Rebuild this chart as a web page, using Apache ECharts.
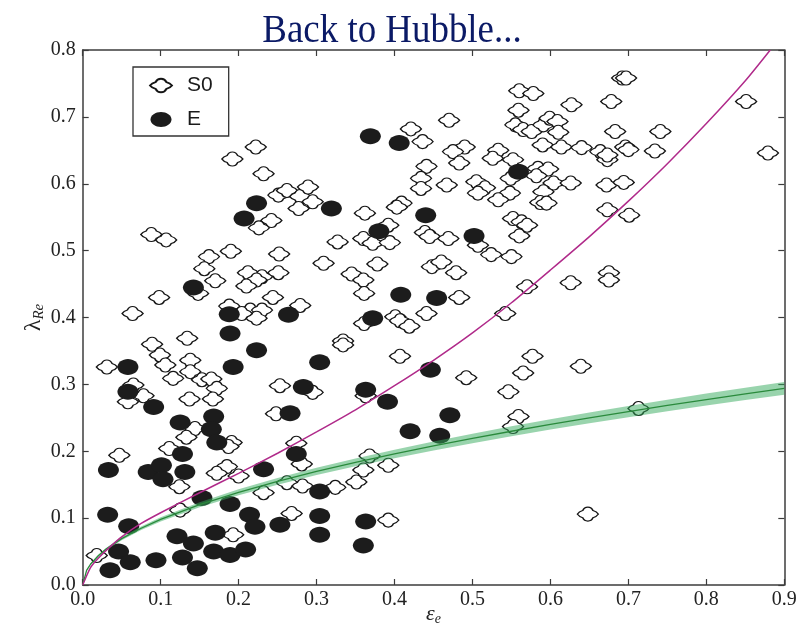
<!DOCTYPE html>
<html>
<head>
<meta charset="utf-8">
<script src="https://cdn.jsdelivr.net/npm/echarts@6/dist/echarts.min.js"></script>
<style>
  html, body { margin: 0; padding: 0; background: #ffffff; }
  #chart { width: 801px; height: 628px; }
</style>
</head>
<body>
<div id="chart"></div>
<script>
// Axis ranges and tick spacing
const xRange = [0, 0.9];
const yRange = [0, 0.8];
const tickStep = 0.1;

// S0 galaxies: ellipticity and lambda_Re
const s0Eps = [0.222,0.192,0.232,0.251,0.262,0.279,0.289,0.295,0.277,0.242,0.226,0.088,0.107,0.162,0.190,0.252,0.309,0.327,0.156,0.170,0.212,0.230,0.223,0.251,0.210,0.148,0.098,0.244,0.064,0.188,0.215,0.230,0.223,0.204,0.279,0.134,0.089,0.334,0.334,
  0.560,0.578,0.627,0.559,0.470,0.421,0.436,0.555,0.565,0.576,0.591,0.599,0.609,0.610,0.590,0.614,0.640,0.490,0.475,0.483,0.533,0.526,0.552,0.441,0.584,0.597,0.582,0.549,0.434,0.434,0.467,0.505,0.516,0.507,0.548,0.533,0.604,0.626,0.591,0.587,0.595,0.409,0.403,0.362,0.392,0.552,0.563,0.570,0.560,0.360,0.372,0.394,0.439,0.445,0.469,0.507,0.524,0.550,0.378,0.448,0.460,0.479,0.345,0.360,0.361,0.483,0.441,0.401,0.407,0.361,0.419,0.570,0.626,0.542,
  0.692,0.697,0.678,0.851,0.683,0.741,0.664,0.696,0.700,0.673,0.673,0.734,0.879,0.672,0.694,0.673,0.701,0.675,0.675,
  0.639,0.713,0.648,
  0.407,0.577,0.565,0.492,0.546,0.363,0.559,0.552,0.368,0.392,0.360,0.351,0.324,0.392,
  0.031,0.099,0.106,0.138,0.138,0.116,0.153,0.165,0.172,0.065,0.078,0.058,0.137,0.167,0.253,0.295,0.248,0.144,0.133,0.111,0.191,0.187,0.047,0.185,0.172,0.200,0.124,0.274,0.281,0.262,0.282,0.232,0.268,0.193,0.018,0.125];
const s0Lam = [0.655,0.637,0.615,0.583,0.590,0.581,0.595,0.573,0.563,0.545,0.534,0.524,0.516,0.491,0.499,0.495,0.481,0.513,0.473,0.455,0.467,0.461,0.456,0.467,0.447,0.436,0.430,0.430,0.406,0.417,0.411,0.411,0.399,0.406,0.418,0.369,0.360,0.365,0.359,
  0.739,0.735,0.718,0.710,0.695,0.682,0.663,0.688,0.681,0.678,0.688,0.698,0.693,0.677,0.658,0.655,0.654,0.655,0.648,0.631,0.650,0.638,0.636,0.626,0.623,0.622,0.612,0.608,0.608,0.593,0.598,0.603,0.594,0.586,0.586,0.576,0.601,0.601,0.588,0.572,0.571,0.571,0.565,0.556,0.538,0.548,0.543,0.538,0.522,0.518,0.511,0.512,0.527,0.521,0.518,0.508,0.494,0.491,0.480,0.476,0.483,0.467,0.465,0.456,0.436,0.430,0.406,0.401,0.395,0.391,0.387,0.446,0.452,0.406,
  0.758,0.758,0.723,0.723,0.678,0.678,0.648,0.655,0.651,0.636,0.643,0.649,0.646,0.598,0.602,0.561,0.553,0.467,0.456,
  0.327,0.264,0.106,
  0.342,0.342,0.317,0.310,0.289,0.283,0.252,0.237,0.193,0.179,0.172,0.154,0.146,0.097,
  0.326,0.344,0.329,0.336,0.319,0.309,0.307,0.308,0.294,0.299,0.283,0.274,0.278,0.278,0.298,0.288,0.256,0.234,0.221,0.204,0.213,0.207,0.194,0.177,0.167,0.163,0.147,0.212,0.181,0.153,0.148,0.138,0.107,0.075,0.044,0.112];

// E galaxies: ellipticity and lambda_Re
const eEps = [0.369,0.406,0.223,0.207,0.319,0.440,0.502,0.380,0.559,0.142,0.188,0.264,0.189,0.223,0.408,0.454,0.372,
  0.058,0.193,0.304,0.058,0.283,0.091,0.125,0.168,0.165,0.266,0.172,0.128,0.033,0.084,0.101,0.103,0.131,0.232,0.274,0.304,0.153,0.189,0.214,0.221,0.253,0.304,0.304,0.032,0.059,0.121,0.142,0.170,0.168,0.189,0.209,0.046,0.061,0.035,0.094,0.128,0.147,
  0.446,0.363,0.391,0.471,0.420,0.458,0.363,0.360];
const eLam = [0.671,0.661,0.571,0.548,0.563,0.553,0.522,0.529,0.618,0.445,0.405,0.404,0.376,0.351,0.434,0.429,0.399,
  0.326,0.326,0.333,0.289,0.296,0.266,0.243,0.252,0.233,0.257,0.213,0.196,0.172,0.169,0.179,0.158,0.169,0.173,0.196,0.140,0.130,0.121,0.105,0.087,0.090,0.103,0.075,0.105,0.088,0.073,0.062,0.078,0.050,0.045,0.053,0.050,0.034,0.022,0.037,0.041,0.025,
  0.322,0.292,0.274,0.254,0.230,0.223,0.095,0.059];

// Magenta model curve
const magEps = [0, 0.01, 0.02, 0.035, 0.05, 0.075, 0.1, 0.15, 0.2, 0.25, 0.3, 0.35, 0.4, 0.45, 0.5, 0.55, 0.6, 0.65, 0.7, 0.75, 0.8, 0.85, 0.882];
const magLam = [0, 0.026, 0.040, 0.057, 0.072, 0.092, 0.108, 0.138, 0.167, 0.197, 0.229, 0.262, 0.298, 0.336, 0.377, 0.422, 0.471, 0.521, 0.574, 0.630, 0.690, 0.754, 0.800];

// Green relation with its shaded band
const fitEps = [0, 0.005, 0.01, 0.02, 0.03, 0.05, 0.075, 0.1, 0.15, 0.2, 0.25, 0.3, 0.35, 0.4, 0.45, 0.5, 0.55, 0.6, 0.65, 0.7, 0.75, 0.8, 0.85, 0.9];
const fitLam = [0, 0.0219, 0.0310, 0.0438, 0.0537, 0.0693, 0.0849, 0.0980, 0.1201, 0.1386, 0.1550, 0.1698, 0.1834, 0.1961, 0.2080, 0.2192, 0.2299, 0.2401, 0.2499, 0.2594, 0.2685, 0.2773, 0.2858, 0.2941];
const fitLo  = [0, 0.0212, 0.0300, 0.0424, 0.0520, 0.0671, 0.0822, 0.0949, 0.1162, 0.1342, 0.1500, 0.1643, 0.1775, 0.1897, 0.2012, 0.2121, 0.2225, 0.2324, 0.2419, 0.2510, 0.2598, 0.2683, 0.2766, 0.2846];
const fitHi  = [0, 0.0226, 0.0320, 0.0453, 0.0554, 0.0716, 0.0876, 0.1012, 0.1239, 0.1431, 0.1600, 0.1753, 0.1893, 0.2024, 0.2147, 0.2263, 0.2373, 0.2479, 0.2580, 0.2677, 0.2771, 0.2862, 0.2950, 0.3036];

const zip = (a, b) => a.map((v, i) => [v, b[i]]);

// lens with a central bulge for S0, plain ellipse for E
const s0Symbol = 'path://M0,7 C1.2,5.4 3.2,4.2 5.6,3.6 C6.6,1.4 8.6,0.3 11,0.3 C13.4,0.3 15.4,1.4 16.4,3.6 C18.8,4.2 20.8,5.4 22,7 C20.8,8.6 18.8,9.8 16.4,10.4 C15.4,12.6 13.4,13.7 11,13.7 C8.6,13.7 6.6,12.6 5.6,10.4 C3.2,9.8 1.2,8.6 0,7 Z';
const eSymbol = 'path://M0,7.5 C0,3.4 4.9,0 10.5,0 C16.1,0 21,3.4 21,7.5 C21,11.6 16.1,15 10.5,15 C4.9,15 0,11.6 0,7.5 Z';

const serif = '"Liberation Serif", "DejaVu Serif", serif';
const frame = '#3c3c3c';

function valueAxis(range, extra) {
  return Object.assign({
    type: 'value', min: range[0], max: range[1], interval: tickStep,
    splitLine: { show: false },
    axisLine: { show: true, onZero: false, lineStyle: { color: frame, width: 1.5 } },
    axisTick: { show: true, inside: true, length: 6, lineStyle: { color: frame, width: 1.2 } },
    axisLabel: { show: false }
  }, extra);
}

const chart = echarts.init(document.getElementById('chart'), null, { renderer: 'canvas' });
chart.setOption({
  backgroundColor: '#ffffff',
  animation: false,
  graphic: [{
    type: 'text', x: 392, y: 31, scaleX: 0.9, silent: true,
    style: {
      text: 'Back to Hubble...', fill: '#0b1a66',
      font: '41px "Liberation Serif", "DejaVu Serif", serif',
      textAlign: 'center', textVerticalAlign: 'middle'
    }
  }],
  legend: {
    left: 133, top: 67, orient: 'vertical',
    padding: [8, 16, 6, 16], itemGap: 13, itemWidth: 22, itemHeight: 15,
    borderColor: '#333', borderWidth: 1.3, backgroundColor: '#fff',
    textStyle: { fontFamily: '"Liberation Sans", Arial, sans-serif', fontSize: 21, color: '#1a1a1a', lineHeight: 20, padding: [0, 0, 0, 10] },
    data: [{ name: 'S0', icon: s0Symbol }, { name: 'E', icon: eSymbol }]
  },
  grid: { left: 82.7, right: 16.7, top: 50, bottom: 43, outerBoundsMode: 'none', containLabel: false },
  xAxis: [
    valueAxis(xRange, {
      position: 'bottom',
      axisLabel: { show: true, margin: 5, fontFamily: serif, fontSize: 20, color: '#222', formatter: v => v.toFixed(1) },
      name: '{m|ε}{s|e}', nameLocation: 'middle', nameGap: 17, nameMoveOverlap: false,
      nameTextStyle: { rich: {
        m: { fontFamily: serif, fontStyle: 'italic', fontSize: 22, color: '#222' },
        s: { fontFamily: serif, fontStyle: 'italic', fontSize: 14, color: '#222', padding: [10, 0, 0, 0] }
      } }
    }),
    valueAxis(xRange, { position: 'top' })
  ],
  yAxis: [
    valueAxis(yRange, {
      position: 'left',
      axisLabel: { show: true, margin: 7, fontFamily: serif, fontSize: 20, color: '#222', formatter: v => v.toFixed(1) },
      name: '{m|λ}{s|Re}', nameLocation: 'middle', nameGap: 36, nameRotate: 90, nameMoveOverlap: false,
      nameTextStyle: { rich: {
        m: { fontFamily: serif, fontSize: 24, color: '#222' },
        s: { fontFamily: serif, fontStyle: 'italic', fontSize: 15, color: '#222', padding: [10, 0, 0, 0] }
      } }
    }),
    valueAxis(yRange, { position: 'right' })
  ],
  series: [
    {
      name: 'S0', type: 'scatter', z: 2,
      symbol: s0Symbol, symbolSize: [21, 14],
      itemStyle: { color: '#ffffff', borderColor: '#151515', borderWidth: 1.3, opacity: 1 },
      data: zip(s0Eps, s0Lam)
    },
    {
      name: 'E', type: 'scatter', z: 3,
      symbol: eSymbol, symbolSize: [21, 16],
      itemStyle: { color: '#1c1c1c', opacity: 1 },
      data: zip(eEps, eLam)
    },
    {
      name: 'band', type: 'custom', z: 4, silent: true,
      data: [0],
      renderItem: function (params, api) {
        const upper = fitEps.map((x, i) => api.coord([x, fitHi[i]]));
        const lower = fitEps.map((x, i) => api.coord([x, fitLo[i]])).reverse();
        return {
          type: 'polygon',
          shape: { points: upper.concat(lower) },
          style: { fill: 'rgba(52,170,92,0.5)', stroke: null }
        };
      }
    },
    {
      name: 'fit', type: 'line', z: 5, silent: true,
      showSymbol: false, symbol: 'none',
      lineStyle: { color: '#2a8a3c', width: 1.3 },
      data: zip(fitEps, fitLam)
    },
    {
      name: 'model', type: 'line', z: 5, silent: true,
      showSymbol: false, symbol: 'none', smooth: 0.2,
      lineStyle: { color: '#b02a8a', width: 1.5 },
      data: zip(magEps, magLam)
    }
  ]
});
</script>
</body>
</html>
